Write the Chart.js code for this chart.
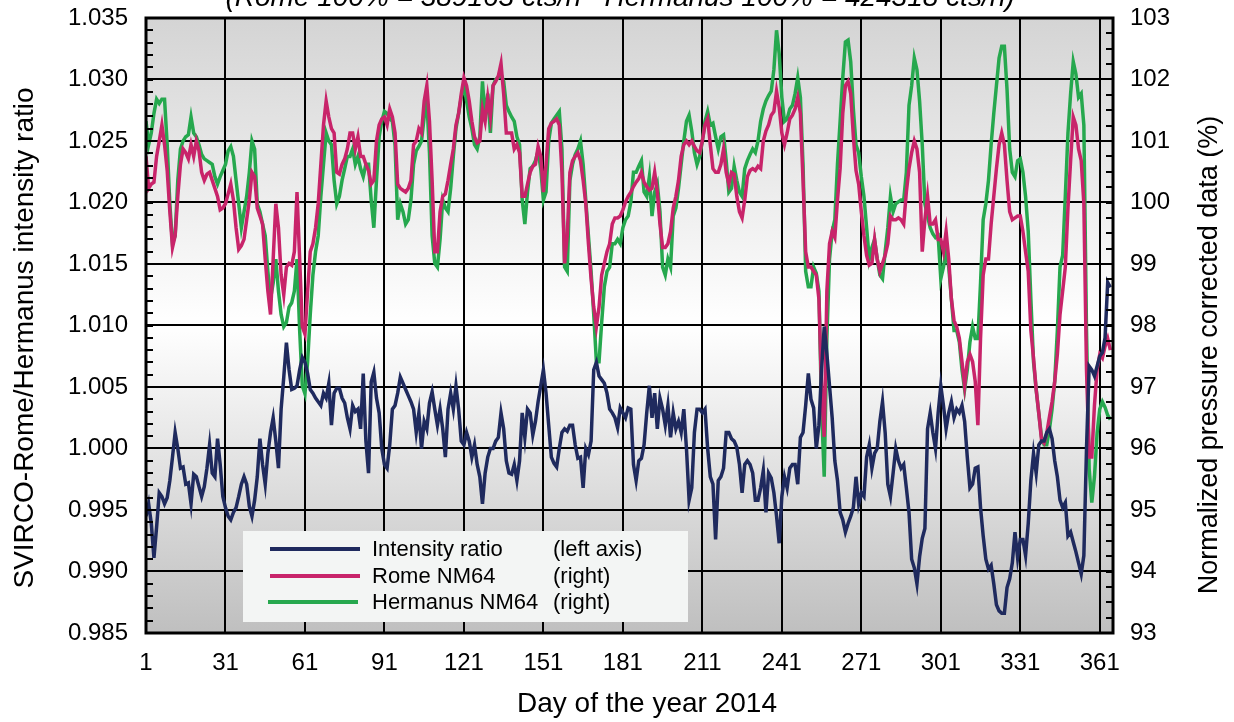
<!DOCTYPE html>
<html>
<head>
<meta charset="utf-8">
<script src="https://cdn.jsdelivr.net/npm/chart.js@4.4.0/dist/chart.umd.min.js"></script>
<style>
  html, body { margin: 0; padding: 0; background: #fff; }
  #wrap { width: 1234px; height: 722px; }
</style>
</head>
<body>
<div id="wrap"><canvas id="chart" width="1234" height="722"></canvas></div>
<script>
// tick positions
const xTicks = [1, 31, 61, 91, 121, 151, 181, 211, 241, 271, 301, 331, 361];
const leftTicks = [0.985, 0.990, 0.995, 1.000, 1.005, 1.010, 1.015, 1.020, 1.025, 1.030, 1.035];
const rightTicks = [93, 94, 95, 96, 97, 98, 99, 100, 101, 102, 103];

// SVIRCO-Rome / Hermanus intensity ratio (left axis), day 1..365
const ratio = [
  0.9945, 0.9955, 0.9939, 0.9911, 0.9936, 0.9964, 0.9961, 0.9955, 0.9960, 0.9974,
  0.9993, 1.0013, 1.0000, 0.9984, 0.9985, 0.9971, 0.9972, 0.9955, 0.9979, 0.9977,
  0.9969, 0.9961, 0.9969, 0.9984, 1.0003, 0.9980, 0.9977, 1.0008, 0.9987, 0.9961,
  0.9952, 0.9945, 0.9942, 0.9948, 0.9952, 0.9961, 0.9971, 0.9977, 0.9971, 0.9953,
  0.9945, 0.9958, 0.9977, 1.0008, 0.9987, 0.9971, 0.9996, 1.0013, 1.0025, 1.0006,
  0.9984, 1.0032, 1.0058, 1.0086, 1.0064, 1.0048, 1.0049, 1.0051, 1.0064, 1.0074,
  1.0070, 1.0061, 1.0048, 1.0045, 1.0041, 1.0038, 1.0035, 1.0045, 1.0041, 1.0053,
  1.0019, 1.0045, 1.0049, 1.0049, 1.0041, 1.0037, 1.0025, 1.0016, 1.0035, 1.0030,
  1.0032, 1.0016, 1.0061, 1.0006, 0.9980, 1.0054, 1.0062, 1.0041, 1.0029, 1.0000,
  0.9987, 0.9984, 1.0003, 1.0032, 1.0035, 1.0045, 1.0058, 1.0053, 1.0048, 1.0043,
  1.0038, 1.0032, 1.0013, 1.0029, 1.0000, 1.0022, 1.0016, 1.0037, 1.0046, 1.0032,
  1.0019, 1.0032, 1.0016, 0.9993, 1.0032, 1.0045, 1.0032, 1.0051, 1.0032, 1.0006,
  1.0003, 1.0013, 1.0006, 0.9993, 1.0003, 0.9987, 0.9977, 0.9955, 0.9980, 0.9993,
  1.0000, 1.0000, 1.0006, 1.0009, 1.0029, 1.0016, 0.9990, 0.9980, 0.9979, 0.9987,
  0.9974, 0.9990, 1.0029, 1.0009, 1.0032, 1.0029, 1.0011, 1.0022, 1.0038, 1.0051,
  1.0064, 1.0045, 1.0019, 0.9993, 0.9988, 0.9985, 1.0000, 1.0013, 1.0016, 1.0014,
  1.0019, 1.0019, 1.0003, 0.9992, 0.9993, 0.9968, 1.0000, 0.9995, 1.0006, 1.0064,
  1.0070, 1.0059, 1.0056, 1.0053, 1.0045, 1.0032, 1.0029, 1.0025, 1.0017, 1.0033,
  1.0029, 1.0025, 1.0033, 1.0032, 0.9987, 0.9974, 0.9990, 0.9992, 1.0003, 1.0029,
  1.0051, 1.0025, 1.0045, 1.0016, 1.0041, 1.0032, 1.0019, 1.0035, 1.0009, 1.0029,
  1.0016, 1.0022, 1.0013, 1.0032, 1.0000, 0.9958, 0.9968, 1.0013, 1.0032, 1.0032,
  1.0029, 1.0032, 1.0000, 0.9977, 0.9971, 0.9926, 0.9974, 0.9977, 0.9984, 1.0013,
  1.0013, 1.0008, 1.0006, 1.0001, 0.9987, 0.9964, 0.9987, 0.9990, 0.9987, 0.9980,
  0.9958, 0.9958, 0.9968, 0.9982, 0.9948, 0.9980, 0.9976, 0.9964, 0.9945, 0.9923,
  0.9961, 0.9977, 0.9968, 0.9984, 0.9987, 0.9987, 0.9971, 1.0009, 1.0013, 1.0035,
  1.0061, 1.0040, 1.0033, 1.0000, 1.0019, 1.0064, 1.0099, 1.0077, 1.0051, 1.0025,
  0.9990, 0.9974, 0.9948, 0.9942, 0.9932, 0.9939, 0.9945, 0.9952, 0.9977, 0.9955,
  0.9964, 0.9961, 0.9993, 1.0003, 0.9984, 0.9996, 1.0000, 1.0022, 1.0038, 1.0013,
  0.9971, 0.9961, 0.9980, 1.0000, 0.9990, 0.9984, 0.9987, 0.9968, 0.9948, 0.9910,
  0.9903, 0.9890, 0.9912, 0.9927, 0.9935, 1.0016, 1.0029, 1.0013, 1.0000, 1.0029,
  1.0051, 1.0035, 1.0016, 1.0029, 1.0038, 1.0025, 1.0032, 1.0029, 1.0035, 1.0022,
  0.9993, 0.9968, 0.9971, 0.9984, 0.9985, 0.9952, 0.9929, 0.9910, 0.9902, 0.9905,
  0.9890, 0.9873, 0.9868, 0.9866, 0.9866, 0.9887, 0.9894, 0.9907, 0.9932, 0.9911,
  0.9926, 0.9926, 0.9913, 0.9939, 0.9974, 0.9996, 0.9980, 1.0003, 1.0006, 1.0006,
  1.0013, 1.0016, 1.0008, 0.9990, 0.9977, 0.9958, 0.9952, 0.9956, 0.9929, 0.9932,
  0.9924, 0.9916, 0.9907, 0.9898, 0.9913, 1.0000, 1.0067, 1.0064, 1.0059, 1.0067,
  1.0075, 1.0078, 1.0090, 1.0135, 1.0131
];

// Rome NM64, % of 389163 cts/h (right axis)
const rome = [
  100.75, 100.23, 100.30, 100.33, 100.75, 101.00, 101.26, 100.94, 100.52, 99.85,
  99.27, 99.46, 100.10, 100.62, 100.87, 100.81, 100.71, 100.94, 100.75, 101.00,
  100.84, 100.49, 100.36, 100.46, 100.49, 100.36, 100.23, 100.10, 99.88, 99.91,
  99.98, 100.14, 100.30, 100.04, 99.59, 99.24, 99.30, 99.40, 99.72, 100.04,
  100.49, 100.42, 99.91, 99.78, 99.65, 99.08, 98.56, 98.18, 99.08, 99.98,
  99.59, 98.82, 98.50, 98.95, 99.01, 98.98, 99.20, 100.17, 99.08, 97.98,
  97.86, 98.56, 99.20, 99.33, 99.59, 99.98, 100.62, 101.26, 101.65, 101.39,
  101.20, 101.13, 100.49, 100.46, 100.62, 100.71, 100.87, 101.13, 101.13, 100.87,
  101.07, 100.75, 100.75, 100.62, 100.52, 100.30, 100.36, 101.00, 101.26, 101.36,
  101.39, 101.26, 101.52, 101.39, 101.13, 100.30, 100.23, 100.20, 100.17, 100.23,
  100.36, 100.94, 101.00, 101.20, 101.13, 101.65, 101.90, 101.32, 100.36, 99.20,
  99.20, 99.85, 100.10, 100.14, 100.36, 100.62, 100.87, 101.26, 101.45, 101.77,
  102.03, 101.90, 101.65, 101.32, 101.07, 100.97, 101.00, 101.52, 101.32, 101.71,
  101.39, 101.90, 101.97, 102.06, 102.26, 101.77, 101.13, 101.13, 101.13, 100.87,
  100.94, 100.81, 100.10, 100.10, 100.30, 100.49, 100.59, 100.62, 100.91, 100.75,
  100.17, 100.62, 101.20, 101.29, 101.32, 101.36, 101.26, 100.49, 99.01, 99.46,
  100.49, 100.68, 100.75, 100.81, 100.68, 100.36, 99.98, 99.33, 98.76, 98.30,
  97.98, 98.30, 98.82, 99.01, 99.20, 99.33, 99.65, 99.75, 99.75, 99.78,
  99.88, 100.01, 100.10, 100.17, 100.26, 100.33, 100.39, 100.49, 100.33, 100.26,
  100.20, 100.23, 100.49, 100.17, 99.65, 99.27, 99.27, 99.33, 99.53, 99.91,
  100.10, 100.36, 100.75, 100.94, 101.00, 100.94, 101.00, 100.91, 100.84, 100.81,
  101.00, 101.26, 101.36, 100.94, 100.55, 100.49, 100.49, 100.62, 100.87, 100.49,
  100.30, 100.49, 100.46, 100.10, 99.85, 99.75, 100.04, 100.42, 100.52, 100.55,
  100.52, 100.59, 100.55, 101.00, 101.16, 101.26, 101.42, 101.48, 101.81, 101.55,
  101.13, 100.94, 101.13, 101.36, 101.42, 101.52, 101.71, 101.45, 100.36, 99.20,
  98.95, 98.95, 98.88, 98.82, 98.43, 96.96, 96.19, 98.56, 99.33, 99.53,
  99.43, 100.04, 100.55, 101.45, 101.90, 101.97, 101.77, 101.07, 100.52, 100.30,
  99.85, 99.46, 99.14, 98.98, 99.01, 99.40, 99.08, 98.88, 99.01, 99.14,
  99.33, 99.78, 99.72, 99.72, 99.75, 99.72, 99.65, 100.17, 100.55, 100.81,
  101.00, 100.87, 100.49, 99.20, 99.72, 100.10, 99.65, 99.65, 99.72, 99.40,
  99.40, 99.20, 99.53, 99.08, 98.43, 98.08, 97.98, 97.79, 97.41, 97.02,
  97.41, 97.53, 97.41, 97.09, 96.38, 97.79, 98.82, 99.08, 99.08, 99.65,
  100.10, 100.55, 100.94, 101.13, 100.94, 100.36, 99.85, 99.72, 99.75, 99.78,
  99.78, 99.53, 99.20, 98.88, 97.92, 97.47, 96.96, 96.57, 96.15, 96.09,
  96.25, 96.51, 96.76, 97.09, 97.53, 98.18, 98.56, 98.95, 99.91, 100.68,
  101.39, 101.26, 100.87, 100.68, 99.98, 97.28, 95.86, 95.86, 96.70, 97.28,
  97.53, 97.47, 97.66, 97.79, 97.60
];

// Hermanus NM64, % of 424318 cts/h (right axis)
const hermanus = [
  101.32, 100.94, 101.13, 101.45, 101.68, 101.61, 101.68, 101.68, 100.94, 99.98,
  99.33, 99.46, 100.36, 100.87, 101.00, 101.07, 101.10, 101.39, 101.13, 101.07,
  100.94, 100.78, 100.71, 100.68, 100.65, 100.62, 100.42, 100.30, 100.42, 100.52,
  100.62, 100.84, 100.91, 100.75, 100.36, 99.98, 99.59, 99.85, 100.10, 100.49,
  101.00, 100.87, 99.98, 99.85, 99.65, 99.46, 98.88, 98.43, 98.69, 99.08,
  98.56, 98.18, 97.98, 98.05, 98.30, 98.37, 98.56, 99.08, 97.92, 97.02,
  96.89, 97.41, 98.18, 98.82, 99.20, 99.46, 100.10, 100.62, 101.13, 101.00,
  100.94, 100.36, 99.98, 100.10, 100.36, 100.55, 100.75, 100.75, 100.87, 100.62,
  100.75, 100.55, 100.42, 100.62, 100.62, 100.04, 99.59, 100.36, 101.07, 101.32,
  101.48, 101.45, 101.36, 101.32, 100.94, 99.72, 99.98, 99.85, 99.65, 99.72,
  100.04, 100.62, 100.84, 100.91, 101.00, 101.39, 101.65, 100.81, 99.46, 99.01,
  98.95, 99.40, 100.04, 99.91, 99.85, 100.23, 100.75, 101.20, 101.45, 101.71,
  101.90, 101.65, 101.39, 101.20, 100.94, 100.87, 101.07, 101.97, 101.39, 101.77,
  101.13, 101.90, 102.00, 102.03, 102.09, 101.97, 101.58, 101.48, 101.39, 101.32,
  101.07, 100.94, 100.04, 99.65, 100.17, 100.55, 100.59, 100.68, 100.84, 100.55,
  100.04, 100.17, 101.00, 101.29, 101.36, 101.42, 101.48, 100.87, 98.95, 98.88,
  100.36, 100.62, 100.78, 100.87, 101.00, 100.62, 100.04, 99.46, 98.88, 98.18,
  97.41, 97.41, 98.05, 98.63, 98.88, 98.95, 99.33, 99.33, 99.40, 99.33,
  99.59, 99.72, 99.78, 100.01, 100.49, 100.49, 100.59, 100.68, 100.17, 100.10,
  100.42, 99.78, 100.17, 100.30, 99.85, 98.95, 98.82, 99.08, 98.95, 99.78,
  99.91, 100.23, 100.62, 101.00, 101.32, 101.42, 101.16, 100.81, 100.62, 100.75,
  101.00, 101.32, 101.48, 101.26, 101.29, 101.07, 100.87, 101.07, 101.10, 100.68,
  100.17, 100.23, 100.59, 100.36, 100.17, 100.10, 100.55, 100.68, 100.78, 100.87,
  100.81, 101.00, 101.32, 101.52, 101.65, 101.74, 101.81, 102.16, 102.80, 102.42,
  101.71, 101.32, 101.36, 101.52, 101.58, 101.77, 102.03, 101.71, 100.62, 98.88,
  98.63, 98.63, 98.95, 98.85, 98.56, 96.64, 95.54, 97.79, 99.08, 99.53,
  99.72, 100.62, 101.32, 102.03, 102.61, 102.64, 102.29, 101.52, 100.94, 100.81,
  100.42, 100.10, 99.59, 99.08, 99.27, 99.40, 99.08, 98.82, 98.76, 99.20,
  99.59, 100.10, 99.85, 99.98, 100.01, 100.04, 100.04, 100.49, 101.58, 101.90,
  102.35, 102.16, 101.65, 100.94, 99.98, 99.78, 99.59, 99.49, 99.43, 99.46,
  98.76, 98.95, 99.20, 98.95, 98.43, 97.92, 97.92, 97.73, 97.28, 96.96,
  97.28, 97.73, 97.98, 97.79, 97.79, 98.69, 99.72, 99.98, 100.36, 100.94,
  101.45, 101.90, 102.35, 102.54, 102.54, 101.84, 100.87, 100.49, 100.42, 100.68,
  100.71, 100.49, 100.10, 99.53, 98.43, 97.41, 96.96, 96.57, 96.19, 96.06,
  96.06, 96.31, 96.64, 97.09, 97.92, 98.95, 99.14, 100.10, 101.13, 101.77,
  102.29, 102.09, 101.71, 101.77, 101.26, 97.92, 95.67, 95.12, 95.54, 96.25,
  96.64, 96.76, 96.67, 96.54, 96.47
];

const days = ratio.map((v, i) => i + 1);

const FONT = '"Liberation Sans", Arial, sans-serif';
const BLUE = '#1f2a5e';
const PINK = '#c8246a';
const GREEN = '#26a84e';

// gradient panel behind the plot
const panelBg = {
  id: 'panelBg',
  beforeDraw(chart) {
    const {ctx, chartArea: a} = chart;
    ctx.save();
    ctx.fillStyle = '#ffffff';
    ctx.fillRect(0, 0, chart.width, chart.height);
    const g = ctx.createLinearGradient(0, a.top, 0, a.bottom);
    g.addColorStop(0, '#d4d4d4');
    g.addColorStop(0.5, '#ffffff');
    g.addColorStop(1, '#bfbfbf');
    ctx.fillStyle = g;
    ctx.fillRect(a.left, a.top, a.right - a.left, a.bottom - a.top);
    ctx.restore();
  }
};

// frame, minor ticks, legend box and texts
const extras = {
  id: 'extras',
  afterDatasetsDraw(chart) {
    const {ctx, chartArea: a, scales} = chart;
    ctx.save();
    ctx.strokeStyle = '#000';
    ctx.lineWidth = 2;
    ctx.beginPath();
    for (let v = 0.985; v <= 1.0351; v += 0.001) {
      const y = Math.round(scales.y.getPixelForValue(v));
      ctx.moveTo(a.left, y); ctx.lineTo(a.left + 7, y);
    }
    for (let v = 93; v <= 103.01; v += 0.25) {
      const y = Math.round(scales.y1.getPixelForValue(v));
      ctx.moveTo(a.right - 7, y); ctx.lineTo(a.right, y);
    }
    ctx.stroke();
    ctx.lineWidth = 3;
    ctx.strokeRect(a.left, a.top, a.right - a.left, a.bottom - a.top);

    // legend
    ctx.fillStyle = '#f3f5f4';
    ctx.fillRect(243, 531, 445, 91);
    const rows = [
      [BLUE, 'Intensity ratio', '(left axis)', 549, 270],
      [PINK, 'Rome NM64', '(right)', 576, 270],
      [GREEN, 'Hermanus NM64', '(right)', 602, 268]
    ];
    ctx.font = '22px ' + FONT;
    ctx.textBaseline = 'middle';
    ctx.textAlign = 'left';
    rows.forEach(r => {
      ctx.strokeStyle = r[0];
      ctx.lineWidth = 4;
      ctx.beginPath();
      ctx.moveTo(r[4], r[3]); ctx.lineTo(r[4] + 90, r[3]);
      ctx.stroke();
      ctx.fillStyle = '#000';
      ctx.fillText(r[1], 372, r[3] + 1);
      ctx.fillText(r[2], 553, r[3] + 1);
    });
    ctx.restore();
  },
  afterDraw(chart) {
    const {ctx} = chart;
    ctx.save();
    ctx.fillStyle = '#000';
    ctx.textAlign = 'center';
    ctx.textBaseline = 'alphabetic';
    ctx.font = 'italic 28px ' + FONT;
    ctx.fillText('(Rome 100% = 389163 cts/h   Hermanus 100% = 424318 cts/h)', 620, 6);

    ctx.font = '28px ' + FONT;
    ctx.textBaseline = 'middle';
    ctx.fillText('Day of the year 2014', 647, 704);

    ctx.translate(25, 338);
    ctx.rotate(-Math.PI / 2);
    ctx.fillText('SVIRCO-Rome/Hermanus intensity ratio', 0, 0);
    ctx.restore();

    ctx.save();
    ctx.fillStyle = '#000';
    ctx.textAlign = 'center';
    ctx.textBaseline = 'middle';
    ctx.font = '27px ' + FONT;
    ctx.translate(1210, 355);
    ctx.rotate(-Math.PI / 2);
    ctx.fillText('Normalized pressure corrected data (%)', 0, 0);
    ctx.restore();
  }
};

const toPoints = arr => arr.map((v, i) => ({x: days[i], y: v}));

// y axes: fixed width, no label overflow padding so the plot spans 18..633
const fixY = w => s => { s.width = w; s.paddingTop = 0; s.paddingBottom = 0; };

new Chart(document.getElementById('chart').getContext('2d'), {
  type: 'line',
  data: {
    datasets: [
      {
        label: 'Intensity ratio',
        data: toPoints(ratio),
        yAxisID: 'y',
        borderColor: BLUE,
        borderWidth: 3.5,
        pointRadius: 0,
        tension: 0
      },
      {
        label: 'Rome NM64',
        data: toPoints(rome),
        yAxisID: 'y1',
        borderColor: PINK,
        borderWidth: 3.5,
        pointRadius: 0,
        tension: 0
      },
      {
        label: 'Hermanus NM64',
        data: toPoints(hermanus),
        yAxisID: 'y1',
        borderColor: GREEN,
        borderWidth: 3.5,
        pointRadius: 0,
        tension: 0
      }
    ]
  },
  options: {
    responsive: false,
    animation: false,
    devicePixelRatio: 1,
    layout: { padding: { top: 18, left: 0, right: 0, bottom: 0 } },
    plugins: {
      legend: { display: false },
      tooltip: { enabled: false }
    },
    scales: {
      x: {
        type: 'linear',
        min: 1,
        max: 366,
        afterBuildTicks: axis => { axis.ticks = xTicks.map(v => ({value: v})); },
        afterFit: s => { s.height = 89; s.paddingLeft = 0; s.paddingRight = 0; },
        grid: { color: '#000', lineWidth: 2, drawTicks: false },
        border: { display: false },
        ticks: { color: '#000', padding: 16, maxRotation: 0, font: { family: FONT, size: 24 } }
      },
      y: {
        position: 'left',
        min: 0.985,
        max: 1.035,
        afterBuildTicks: axis => { axis.ticks = leftTicks.map(v => ({value: v})); },
        afterFit: fixY(146),
        grid: { color: '#000', lineWidth: 2, drawTicks: false },
        border: { display: false },
        ticks: { color: '#000', padding: 18, font: { family: FONT, size: 24 },
                 callback: v => v.toFixed(3) }
      },
      y1: {
        position: 'right',
        min: 93,
        max: 103,
        afterBuildTicks: axis => { axis.ticks = rightTicks.map(v => ({value: v})); },
        afterFit: fixY(121),
        grid: { drawOnChartArea: false, drawTicks: false },
        border: { display: false },
        ticks: { color: '#000', padding: 17, font: { family: FONT, size: 24 } }
      }
    }
  },
  plugins: [panelBg, extras]
});
</script>
</body>
</html>
